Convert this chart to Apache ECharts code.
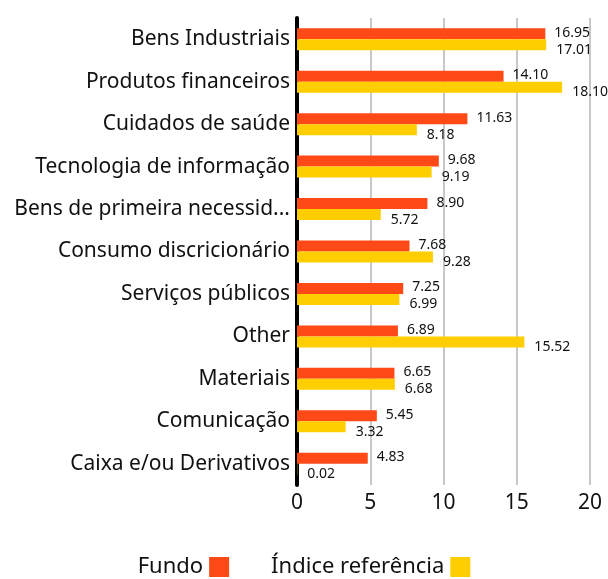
<!DOCTYPE html>
<html><head><meta charset="utf-8">
<script src="https://cdn.jsdelivr.net/npm/echarts@6/dist/echarts.min.js"></script>
<style>html,body{margin:0;padding:0;background:#fff}#c{width:608px;height:579px}</style>
</head><body><div id="c"></div>
<script>
const categories = ["Bens Industriais","Produtos financeiros","Cuidados de saúde","Tecnologia de informação","Bens de primeira necessid...","Consumo discricionário","Serviços públicos","Other","Materiais","Comunicação","Caixa e/ou Derivativos"];
const fundo = [16.95,14.10,11.63,9.68,8.90,7.68,7.25,6.89,6.65,5.45,4.83];
const indice = [17.01,18.10,8.18,9.19,5.72,9.28,6.99,15.52,6.68,3.32,0.02];
const xTicks = [0,5,10,15,20];
const FONT = "Noto Sans";
const chart = echarts.init(document.getElementById('c'));
chart.setOption({
  animation:false,
  textStyle:{fontFamily:FONT},
  grid:{left:297,right:18,top:18,bottom:94,containLabel:false},
  legend:{
    bottom:-4,left:'center',align:'right',itemWidth:20,itemHeight:20,itemGap:42,
    textStyle:{fontSize:22,color:'#111',fontFamily:FONT,padding:[0,1,0,0]},
    data:['Fundo','Índice referência'],
    icon:'rect'
  },
  xAxis:{type:'value',min:xTicks[0],max:xTicks[xTicks.length-1],interval:5,
    axisLine:{show:false},axisTick:{show:false},
    axisLabel:{fontSize:21,color:'#111',margin:8},
    splitLine:{lineStyle:{color:'#c8c8c8',width:2}}
  },
  yAxis:{type:'category',data:categories,inverse:true,
    axisLine:{lineStyle:{color:'#000',width:4}},axisTick:{show:false},
    axisLabel:{fontSize:21,color:'#111',margin:7}
  },
  series:[
    {name:'Fundo',type:'bar',data:fundo,barWidth:11,barGap:'0%',itemStyle:{color:'#FF4A17'},
     label:{show:true,position:'right',distance:9,offset:[0,-1],fontSize:14,color:'#111',formatter:p=>p.value.toFixed(2)}},
    {name:'Índice referência',type:'bar',data:indice,barWidth:11,barGap:'0%',itemStyle:{color:'#FFCE00'},
     label:{show:true,position:'right',distance:10,offset:[0,5],fontSize:14,color:'#111',formatter:p=>p.value.toFixed(2)}}
  ]
});
</script></body></html>
